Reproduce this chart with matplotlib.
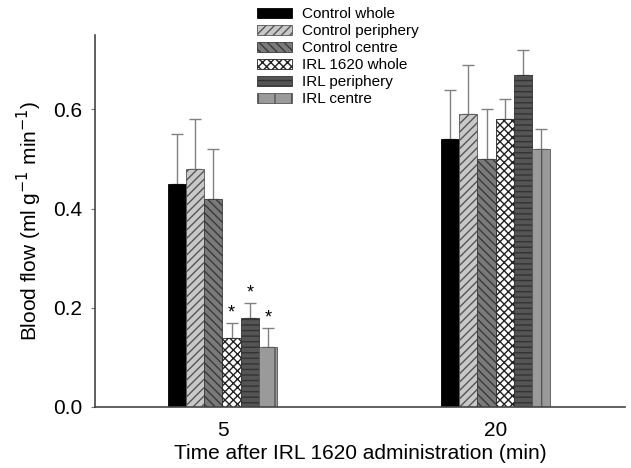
import matplotlib
matplotlib.use("Agg")
import matplotlib.pyplot as plt
import numpy as np

# data
times = [5, 20]
series = ["Control whole", "Control periphery", "Control centre",
          "IRL 1620 whole", "IRL periphery", "IRL centre"]
means = {
    "Control whole":     [0.45, 0.54],
    "Control periphery": [0.48, 0.59],
    "Control centre":    [0.42, 0.50],
    "IRL 1620 whole":    [0.14, 0.58],
    "IRL periphery":     [0.18, 0.67],
    "IRL centre":        [0.12, 0.52],
}
errors = {
    "Control whole":     [0.10, 0.10],
    "Control periphery": [0.10, 0.10],
    "Control centre":    [0.10, 0.10],
    "IRL 1620 whole":    [0.03, 0.04],
    "IRL periphery":     [0.03, 0.05],
    "IRL centre":        [0.04, 0.04],
}
significant = {
    "IRL 1620 whole": [True, False],
    "IRL periphery":  [True, False],
    "IRL centre":     [True, False],
}

styles = [
    dict(facecolor="#000000", hatch=None, edge="#000000"),
    dict(facecolor="#c8c8c8", hatch="////", edge="#555555"),
    dict(facecolor="#7a7a7a", hatch="\\\\\\\\", edge="#3a3a3a"),
    dict(facecolor="#ffffff", hatch="xxxx", edge="#222222"),
    dict(facecolor="#555555", hatch="---", edge="#333333"),
    dict(facecolor="#9a9a9a", hatch="|", edge="#555555"),
]

plt.rcParams["font.family"] = ["Liberation Sans", "DejaVu Sans"]

fig = plt.figure(figsize=(6.31, 4.68), dpi=100)
ax = fig.add_axes([95 / 631, 1 - 407 / 468, 530 / 631, 372 / 468])

width = 1.0
n = len(series)
x = np.array(times, dtype=float)
for i, name in enumerate(series):
    st = styles[i]
    pos = x + (i - (n - 1) / 2) * width
    ax.bar(pos, means[name], width, color=st["facecolor"], hatch=st["hatch"],
           edgecolor=st["edge"], linewidth=0.6, label=name, zorder=2)
    ax.errorbar(pos, means[name], yerr=[np.zeros(2), errors[name]], fmt="none",
                ecolor="#808080", elinewidth=1.0, capsize=4, capthick=1.0, zorder=1)
    for j, sig in enumerate(significant.get(name, [False, False])):
        if sig:
            ax.text(pos[j], means[name][j] + errors[name][j] + 0.003, "*",
                    ha="center", va="bottom", fontsize=13)

ax.set_xlim(-2.0, 27.1)
ax.set_ylim(0, 0.75)
ax.set_xticks(times)
ax.set_xticklabels([str(t) for t in times], fontsize=15)
ax.set_yticks([0.0, 0.2, 0.4, 0.6])
ax.set_yticklabels(["0.0", "0.2", "0.4", "0.6"], fontsize=15)
ax.tick_params(axis="x", length=0, pad=10)
ax.tick_params(axis="y", direction="out", length=3, pad=6, color="#777777")
for s in ["top", "right"]:
    ax.spines[s].set_visible(False)
for s in ["left", "bottom"]:
    ax.spines[s].set_color("#444444")
    ax.spines[s].set_linewidth(1.2)

ax.set_xlabel("Time after IRL 1620 administration (min)", fontsize=15, labelpad=3)
ax.set_ylabel("Blood flow (ml g$^{-1}$ min$^{-1}$)", fontsize=15, labelpad=7)

ax.legend(loc="upper left", bbox_to_anchor=(257 / 631, 1 - 7 / 468),
          bbox_transform=fig.transFigure, frameon=False,
          fontsize=11, handlelength=2.3, handleheight=0.65, labelspacing=0.2,
          handletextpad=0.65, borderaxespad=0, borderpad=0)

fig.savefig("out.png", dpi=100)
